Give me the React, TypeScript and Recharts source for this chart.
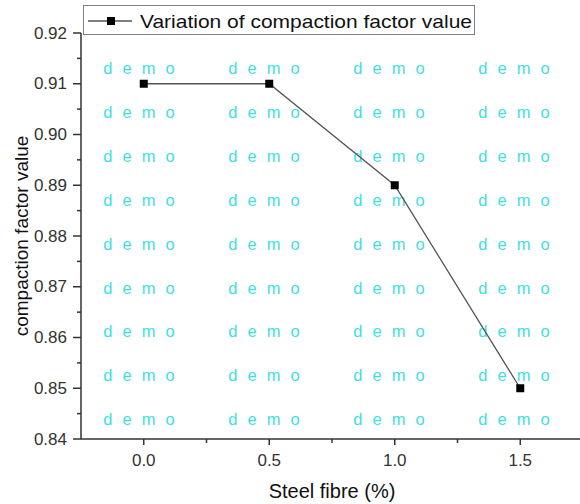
import React from 'react';
import { LineChart, Line, XAxis, YAxis, Legend } from 'recharts';

const fibreContent = [0, 0.5, 1.0, 1.5];
const compactionFactor = [0.91, 0.91, 0.89, 0.85];
const xMajorTicks = [0, 0.5, 1.0, 1.5];
const xMinorTicks = [0.25, 0.75, 1.25];
const yMajorTicks = [0.84, 0.85, 0.86, 0.87, 0.88, 0.89, 0.9, 0.91, 0.92];
const yMinorTicks = [0.845, 0.855, 0.865, 0.875, 0.885, 0.895, 0.905, 0.915];
const seriesName = 'Variation of compaction factor value';
const xTitle = 'Steel fibre (%)';
const yTitle = 'compaction factor value';
const watermarkText = 'demo';
const watermarkCols = 4;
const watermarkRows = 9;

const data = fibreContent.map((x, i) => ({ x, y: compactionFactor[i] }));

const FONT = '"Liberation Sans", Arial, sans-serif';
const AXIS = '#333';

const isIn = (arr: number[], v: number) => arr.some((t) => Math.abs(t - v) < 1e-9);

const XTick = (props: any) => {
  const { x, y, payload } = props;
  const v = payload.value;
  const major = isIn(xMajorTicks, v);
  return (
    <g>
      <line x1={x} x2={x} y1={y} y2={y + (major ? 6 : 4)} stroke={AXIS} strokeWidth={1.5} />
      {major && (
        <text x={x} y={y + 21} textAnchor="middle" dominantBaseline="central" fontFamily={FONT} fontSize={17} fill="#333">
          {v.toFixed(1)}
        </text>
      )}
    </g>
  );
};

const YTick = (props: any) => {
  const { x, y, payload } = props;
  const v = payload.value;
  const major = isIn(yMajorTicks, v);
  return (
    <g>
      <line x1={x} x2={x - (major ? 8 : 4)} y1={y} y2={y} stroke={AXIS} strokeWidth={1.5} />
      {major && (
        <text x={x - 14} y={y} textAnchor="end" dominantBaseline="central" fontFamily={FONT} fontSize={17} fill="#333">
          {v.toFixed(2)}
        </text>
      )}
    </g>
  );
};

const SquareDot = (props: any) => {
  const { cx, cy, index } = props;
  return <rect key={`d-${index}`} x={cx - 4} y={cy - 4} width={8} height={8} fill="#000" />;
};

const LegendBox = () => (
  <div
    style={{
      width: 392,
      height: 30,
      boxSizing: 'border-box',
      border: '1px solid #808080',
      background: '#fff',
    }}
  >
    <svg width={390} height={28} style={{ display: 'block' }}>
      <line x1={4} x2={48} y1={15} y2={15} stroke="#555" strokeWidth={1.3} />
      <rect x={23} y={11} width={8} height={8} fill="#000" />
      <text x={56} y={15} dominantBaseline="central" fontFamily={FONT} fontSize={19} fill="#111" textLength={332} lengthAdjust="spacingAndGlyphs">
        {seriesName}
      </text>
    </svg>
  </div>
);

const Watermark = () => {
  const items: React.ReactNode[] = [];
  for (let r = 0; r < watermarkRows; r++) {
    for (let c = 0; c < watermarkCols; c++) {
      items.push(
        <text
          key={`${r}-${c}`}
          x={139 + c * 125 + 5}
          y={68 + r * 43.9}
          textAnchor="middle"
          dominantBaseline="central"
          fontFamily={FONT}
          fontSize={16.5}
          letterSpacing={10}
          fill="#3fdfe0"
        >
          {watermarkText}
        </text>
      );
    }
  }
  return (
    <svg width={580} height={504} style={{ position: 'absolute', left: 0, top: 0 }}>
      {items}
    </svg>
  );
};

export default function App() {
  return (
    <div style={{ position: 'absolute', left: 0, top: 0, width: 580, height: 504, overflow: 'hidden', background: '#fff' }}>
      <Watermark />
      <div style={{ position: 'absolute', left: 0, top: 0 }}>
        <LineChart width={583} height={504} data={data} margin={{ top: 33, right: 0, bottom: 0, left: 0 }}>
          <XAxis
            dataKey="x"
            type="number"
            domain={[-0.25, 1.75]}
            ticks={[...xMajorTicks, ...xMinorTicks].sort((a, b) => a - b)}
            interval={0}
            height={65}
            tickSize={0}
            tickMargin={0}
            tickLine={false}
            tick={<XTick />}
            axisLine={{ stroke: AXIS, strokeWidth: 1.5 }}
            label={{
              content: (p: any) => {
                const vb = p.viewBox;
                return (
                  <text x={vb.x + vb.width / 2} y={vb.y + 52} textAnchor="middle" dominantBaseline="central" fontFamily={FONT} fontSize={20} fill="#111">
                    {xTitle}
                  </text>
                );
              },
            }}
          />
          <YAxis
            dataKey="y"
            type="number"
            domain={[0.84, 0.92]}
            ticks={[...yMajorTicks, ...yMinorTicks].sort((a, b) => a - b)}
            interval={0}
            width={81}
            tickSize={0}
            tickMargin={0}
            tickLine={false}
            tick={<YTick />}
            axisLine={{ stroke: AXIS, strokeWidth: 1.5 }}
            label={{
              content: (p: any) => {
                const vb = p.viewBox;
                const cx = vb.x + 21;
                const cy = vb.y + vb.height / 2;
                return (
                  <text x={cx} y={cy} transform={`rotate(-90, ${cx}, ${cy})`} textAnchor="middle" dominantBaseline="central" fontFamily={FONT} fontSize={19} fill="#111">
                    {yTitle}
                  </text>
                );
              },
            }}
          />
          <Legend verticalAlign="middle" align="center" wrapperStyle={{ top: 5, left: 83, width: 392, height: 30 }} content={() => <LegendBox />} />
          <Line
            type="linear"
            dataKey="y"
            name={seriesName}
            stroke="#555"
            strokeWidth={1.3}
            dot={<SquareDot />}
            activeDot={false}
            isAnimationActive={false}
          />
        </LineChart>
      </div>
    </div>
  );
}
